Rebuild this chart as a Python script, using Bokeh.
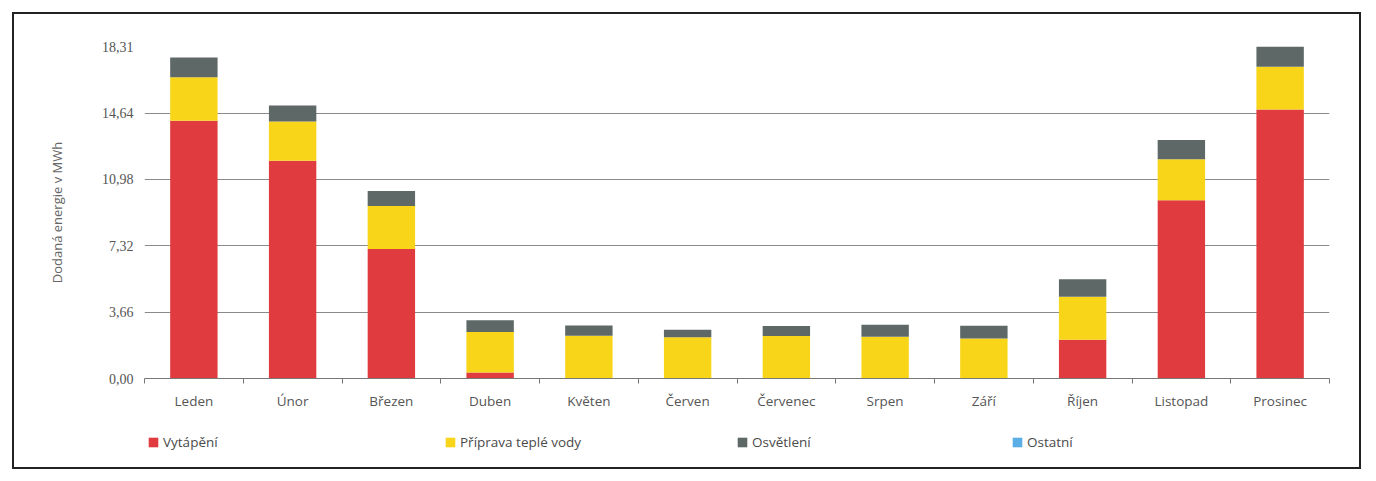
from bokeh.plotting import figure
from bokeh.layouts import column
from bokeh.models import (Range1d, FixedTicker, CustomJSTickFormatter, Legend,
                          LegendItem, ColumnDataSource)
from bokeh.embed import file_html
from bokeh.resources import INLINE

months = ["Leden", "Únor", "Březen", "Duben", "Květen", "Červen", "Červenec",
          "Srpen", "Září", "Říjen", "Listopad", "Prosinec"]
vytapeni = [14.22, 12.01, 7.14, 0.33, 0.0, 0.0, 0.0, 0.0, 0.0, 2.14, 9.83, 14.83]
voda = [2.39, 2.17, 2.37, 2.23, 2.36, 2.28, 2.34, 2.30, 2.21, 2.37, 2.26, 2.37]
osvetleni = [1.09, 0.87, 0.83, 0.65, 0.56, 0.41, 0.56, 0.67, 0.70, 0.97, 1.06, 1.11]
ostatni = [0.0] * 12
y_ticks = [0.0, 3.66, 7.32, 10.98, 14.64, 18.31]

series_names = ["Vytápění", "Příprava teplé vody", "Osvětlení", "Ostatní"]
colors = ["#E03B3E", "#F8D518", "#5E6867", "#5BAEE5"]

xs = [i + 0.5 for i in range(len(months))]
source = ColumnDataSource(dict(x=xs, vytapeni=vytapeni, voda=voda,
                               osvetleni=osvetleni, ostatni=ostatni))

W = 1345
p = figure(width=W, height=399, output_backend="svg", toolbar_location=None,
           x_range=Range1d(0, 12), y_range=Range1d(0, 18.31),
           min_border_left=130, min_border_right=30, min_border_top=32,
           min_border_bottom=35)
p.outline_line_color = None
p.background_fill_color = "white"
p.border_fill_color = "white"

renderers = p.vbar_stack(["vytapeni", "voda", "osvetleni", "ostatni"], x="x",
                         width=0.48, color=colors, line_color=None, source=source)

# x axis
xa = p.xaxis[0]
xa.ticker = FixedTicker(ticks=xs, minor_ticks=list(range(13)))
xa.formatter = CustomJSTickFormatter(args=dict(months=months),
                                     code="return months[Math.round(tick - 0.5)];")
xa.axis_line_color = "#777777"
xa.major_tick_line_color = None
xa.major_tick_out = 0
xa.major_tick_in = 0
xa.minor_tick_line_color = "#777777"
xa.minor_tick_out = 5
xa.minor_tick_in = 0
xa.major_label_standoff = 8
xa.major_label_text_font = "Open Sans"
xa.major_label_text_font_size = "13.5px"
xa.major_label_text_color = "#555555"

# y axis
ya = p.yaxis[0]
ya.ticker = FixedTicker(ticks=y_ticks)
ya.formatter = CustomJSTickFormatter(code="return tick.toFixed(2).replace('.', ',');")
ya.axis_line_color = None
ya.major_tick_line_color = None
ya.minor_tick_line_color = None
ya.major_tick_out = 0
ya.major_label_standoff = 11
ya.major_label_text_font = "Liberation Serif"
ya.major_label_text_font_size = "14px"
ya.major_label_text_color = "#555555"
ya.axis_label = "Dodaná energie v MWh"
ya.axis_label_text_font = "Open Sans"
ya.axis_label_text_font_size = "13px"
ya.axis_label_text_font_style = "normal"
ya.axis_label_text_color = "#666666"
ya.axis_label_standoff = 33

p.xgrid.grid_line_color = None
p.ygrid.grid_line_color = "#8a8a8a"
p.ygrid.grid_line_width = 1

# legend strip (separate figure so the legends are not clipped)
p2 = figure(width=W, height=54, output_backend="svg", toolbar_location=None,
            x_range=Range1d(0, 1), y_range=Range1d(0, 1),
            x_axis_location=None, y_axis_location=None,
            min_border=0, min_border_left=0, min_border_right=0,
            min_border_top=0, min_border_bottom=0)
p2.grid.visible = False
p2.outline_line_color = None
p2.background_fill_color = "white"
p2.border_fill_color = "white"

legend_x = [3, 300, 592, 867]
for name, c, lx in zip(series_names, colors, legend_x):
    # swatch-only renderer, kept outside the visible range
    r = p2.vbar(x=[-5], top=[0], width=0.1, color=c, line_color=None)
    lg = Legend(items=[LegendItem(label=name, renderers=[r])], location=(lx, 16),
                orientation="horizontal", glyph_width=12, glyph_height=12,
                label_height=12, label_standoff=4, padding=0, margin=0,
                border_line_color=None, background_fill_alpha=0,
                label_text_font="Open Sans", label_text_font_size="13.5px",
                label_text_color="#4a4a4a")
    p2.add_layout(lg, "center")

layout = column(p, p2, spacing=0)
layout.styles = {"border": "2px solid #222", "margin-left": "12px", "margin-top": "12px"}

open("out.html", "w").write(file_html(layout, INLINE))
